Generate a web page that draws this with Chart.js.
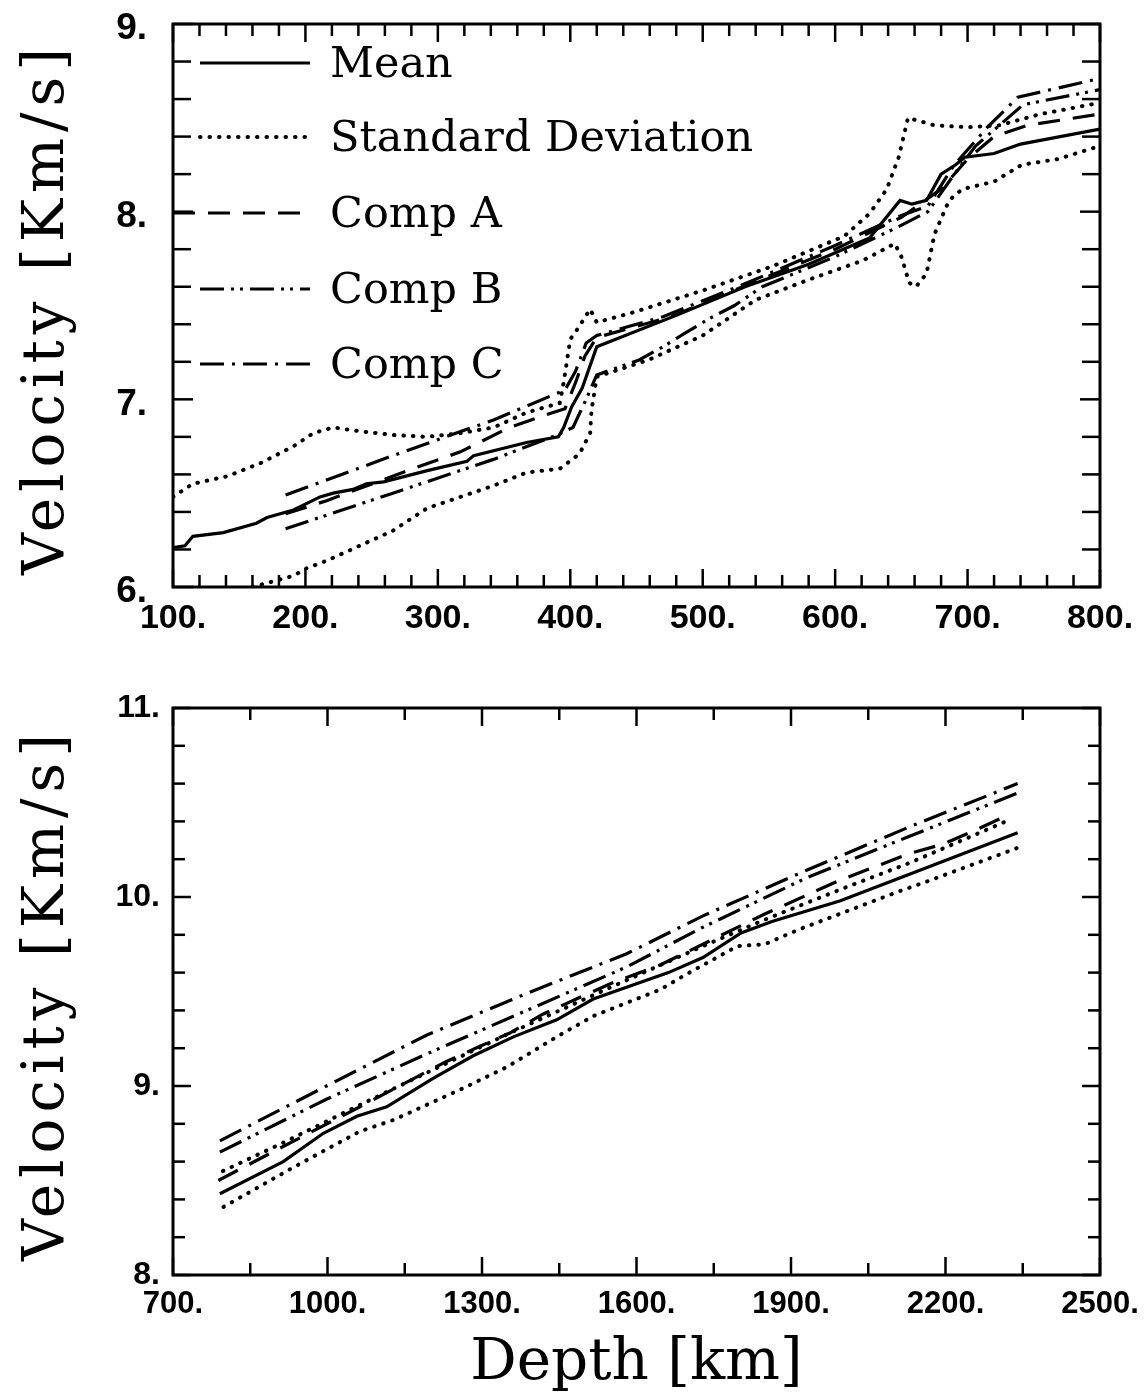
<!DOCTYPE html>
<html lang="en">
<head>
    <meta charset="UTF-8">
    <title>Velocity vs Depth</title>
    <style>
        body {
            margin: 0;
            background: #fff;
        }

        canvas {
            position: absolute;
            left: 0;
        }

        #topChart { top: 0; }
        #bottomChart { top: 650px; }
    </style>
</head>

<body>
    <canvas id="topChart" width="1145" height="650"></canvas>
    <canvas id="bottomChart" width="1145" height="743"></canvas>

    <script src="https://cdn.jsdelivr.net/npm/chart.js"></script>

    <script>
        // depth [km], velocity [km/s] pairs

        // upper panel, 100 - 800 km
        const topMean = [[100, 6.21], [109, 6.22], [115, 6.27], [138, 6.29], [163, 6.34], [171, 6.37], [191, 6.41],
            [211, 6.48], [221, 6.50], [236, 6.52], [246, 6.55], [259, 6.56], [292, 6.62], [322, 6.67], [327, 6.70],
            [367, 6.77], [391, 6.80], [395, 6.85], [401, 6.96], [409, 7.06], [420, 7.28], [481, 7.45], [532, 7.60],
            [580, 7.72], [626, 7.86], [649, 8.06], [658, 8.04], [669, 8.06], [680, 8.20], [691, 8.25], [698, 8.29],
            [720, 8.31], [740, 8.36], [800, 8.44]];
        const topSdUpper = [[100, 6.48], [115, 6.55], [141, 6.59], [166, 6.66], [191, 6.75], [206, 6.82], [221, 6.85],
            [241, 6.83], [266, 6.81], [292, 6.80], [317, 6.82], [342, 6.85], [367, 6.93], [392, 6.98], [395, 7.09],
            [400, 7.32], [405, 7.37], [415, 7.48], [420, 7.41], [446, 7.46], [500, 7.58], [553, 7.71], [607, 7.87],
            [626, 7.99], [639, 8.12], [648, 8.29], [655, 8.50], [675, 8.46], [700, 8.45], [724, 8.46], [755, 8.52],
            [800, 8.58]];
        const topSdLower = [[160, 6.00], [191, 6.06], [201, 6.10], [216, 6.14], [241, 6.22], [266, 6.30], [292, 6.42],
            [317, 6.48], [342, 6.54], [367, 6.61], [392, 6.63], [407, 6.71], [415, 6.82], [416, 6.94], [420, 7.12],
            [459, 7.21], [500, 7.34], [540, 7.53], [581, 7.64], [621, 7.74], [645, 7.83], [650, 7.76], [656, 7.62],
            [661, 7.60], [669, 7.67], [675, 7.88], [686, 8.06], [696, 8.12], [720, 8.16], [741, 8.25], [768, 8.28],
            [800, 8.35]];
        const topCompA = [[185, 6.39], [216, 6.46], [281, 6.63], [317, 6.72], [354, 6.85], [387, 6.93], [396, 6.95],
            [404, 7.09], [411, 7.23], [420, 7.33], [476, 7.44], [530, 7.60], [600, 7.80], [650, 7.97], [680, 8.12],
            [700, 8.28], [720, 8.40], [745, 8.46], [800, 8.52]];
        const topCompB = [[185, 6.31], [266, 6.50], [342, 6.68], [390, 6.81], [402, 6.85], [412, 7.00], [420, 7.13],
            [452, 7.21], [470, 7.28], [486, 7.35], [505, 7.43], [524, 7.50], [545, 7.60], [600, 7.76], [645, 7.91],
            [670, 8.00], [690, 8.20], [706, 8.35], [742, 8.57], [800, 8.65]];
        const topCompC = [[185, 6.49], [266, 6.70], [342, 6.89], [396, 7.05], [404, 7.15], [412, 7.30], [420, 7.34],
            [470, 7.44], [530, 7.61], [600, 7.82], [650, 7.98], [670, 8.03], [690, 8.25], [715, 8.45], [738, 8.61],
            [800, 8.71]];

        // lower panel, 700 - 2500 km
        const botMean = [[791, 8.43], [914, 8.60], [992, 8.75], [1057, 8.84], [1115, 8.89], [1205, 9.04], [1283, 9.16],
            [1361, 9.26], [1445, 9.35], [1516, 9.46], [1662, 9.60], [1729, 9.68], [1803, 9.81], [1863, 9.87],
            [1996, 9.98], [2130, 10.12], [2340, 10.34]];
        const botSdUpper = [[797, 8.55], [914, 8.70], [1063, 8.90], [1231, 9.12], [1354, 9.28], [1548, 9.52],
            [1729, 9.74], [1849, 9.88], [1996, 10.04], [2130, 10.18], [2326, 10.41]];
        const botSdLower = [[798, 8.36], [934, 8.57], [1063, 8.76], [1128, 8.82], [1257, 8.98], [1348, 9.10],
            [1445, 9.26], [1516, 9.37], [1646, 9.51], [1696, 9.59], [1796, 9.74], [1849, 9.75], [1917, 9.83],
            [2110, 10.03], [2162, 10.08], [2340, 10.26]];
        const botCompA = [[788, 8.50], [914, 8.68], [1063, 8.89], [1231, 9.13], [1296, 9.21], [1354, 9.28], [1418, 9.38],
            [1548, 9.54], [1646, 9.64], [1849, 9.91], [1996, 10.09], [2130, 10.23], [2196, 10.28], [2263, 10.36],
            [2326, 10.44]];
        const botCompB = [[791, 8.65], [998, 8.93], [1193, 9.17], [1387, 9.40], [1581, 9.63], [1729, 9.84], [1929, 10.10],
            [2129, 10.32], [2340, 10.55]];
        const botCompC = [[791, 8.71], [998, 9.00], [1193, 9.27], [1387, 9.49], [1581, 9.70], [1729, 9.90], [1929, 10.14],
            [2129, 10.37], [2340, 10.60]];

        const legendLabels = ['Mean', 'Standard Deviation', 'Comp A', 'Comp B', 'Comp C'];
        const yTitle = 'Velocity [Km/s]';
        const xTitle = 'Depth [km]';

        // line looks
        const styles = {
            mean: { dash: [], width: 3.2, cap: 'butt' },
            sd: { dash: [0.5, 9], width: 4, cap: 'round' },
            a: { dash: [22, 13], width: 3.2, cap: 'butt' },
            b: { dash: [24, 7, 3, 6, 3, 7], width: 3.2, cap: 'butt' },
            c: { dash: [24, 8, 3, 8], width: 3.2, cap: 'butt' }
        };
        const legendStyles = [styles.mean, styles.sd, styles.a, styles.b, styles.c];

        const serif = 'DejaVu Serif';

        function toXY(pts) {
            return pts.map(p => ({ x: p[0], y: p[1] }));
        }

        function makeSet(pts, st) {
            return {
                data: toXY(pts),
                borderColor: '#000',
                borderWidth: st.width,
                borderDash: st.dash,
                borderCapStyle: st.cap,
                pointRadius: 0,
                tension: 0,
                fill: false
            };
        }

        // tick marks pointing inward on all four sides, plus the frame
        const innerTicks = {
            id: 'innerTicks',
            afterDatasetsDraw(chart, args, opts) {
                const { ctx, chartArea: a, scales: { x, y } } = chart;
                ctx.save();
                ctx.strokeStyle = '#000';
                ctx.lineWidth = 2.5;
                ctx.setLineDash([]);
                const seg = (x1, y1, x2, y2) => {
                    ctx.beginPath();
                    ctx.moveTo(x1, y1);
                    ctx.lineTo(x2, y2);
                    ctx.stroke();
                };
                const isMajor = (v, min, step) => Math.abs((v - min) / step - Math.round((v - min) / step)) < 1e-6;

                const nx = Math.round((x.max - x.min) / opts.xMinor);
                for (let i = 0; i <= nx; i++) {
                    const v = x.min + i * opts.xMinor;
                    const px = x.getPixelForValue(v);
                    const len = isMajor(v, x.min, opts.xMajor) ? opts.xMajorLen : opts.xMinorLen;
                    seg(px, a.bottom, px, a.bottom - len);
                    seg(px, a.top, px, a.top + len);
                }
                const ny = Math.round((y.max - y.min) / opts.yMinor);
                for (let i = 0; i <= ny; i++) {
                    const v = y.min + i * opts.yMinor;
                    const py = y.getPixelForValue(v);
                    const len = isMajor(v, y.min, opts.yMajor) ? opts.yMajorLen : opts.yMinorLen;
                    seg(a.left, py, a.left + len, py);
                    seg(a.right, py, a.right - len, py);
                }
                ctx.lineWidth = 3;
                ctx.strokeRect(a.left, a.top, a.right - a.left, a.bottom - a.top);
                ctx.restore();
            }
        };

        // rotated y title, a little letter-spaced like the original plot
        const spacedTitle = {
            id: 'spacedTitle',
            afterDraw(chart) {
                const { ctx, chartArea: a } = chart;
                ctx.save();
                ctx.fillStyle = '#000';
                ctx.font = '58px "' + serif + '"';
                ctx.letterSpacing = '6px';
                ctx.textAlign = 'center';
                ctx.textBaseline = 'alphabetic';
                ctx.translate(63, (a.top + a.bottom) / 2 + 3);
                ctx.rotate(-Math.PI / 2);
                ctx.fillText(yTitle, 0, 0);
                ctx.restore();
            }
        };

        // legend drawn inside the upper panel
        const lineLegend = {
            id: 'lineLegend',
            afterDraw(chart, args, opts) {
                if (!opts.show) return;
                const ctx = chart.ctx;
                ctx.save();
                ctx.fillStyle = '#000';
                ctx.strokeStyle = '#000';
                ctx.font = '43px "' + serif + '"';
                ctx.textBaseline = 'middle';
                legendLabels.forEach((label, i) => {
                    const st = legendStyles[i];
                    const yy = opts.rows[i];
                    ctx.lineWidth = st.width;
                    ctx.lineCap = st.cap;
                    ctx.setLineDash(st.dash);
                    ctx.beginPath();
                    ctx.moveTo(opts.lineStart[i], yy);
                    ctx.lineTo(opts.lineEnd, yy);
                    ctx.stroke();
                    ctx.setLineDash([]);
                    ctx.fillText(label, opts.textX, yy + 3);
                });
                ctx.restore();
            }
        };

        function buildChart(id, sets, s) {
            const ctx = document.getElementById(id).getContext('2d');
            const xFont = { family: 'Liberation Sans', weight: 'bold', size: s.xTickSize };
            const yFont = { family: 'Liberation Sans', weight: 'bold', size: s.yTickSize };
            return new Chart(ctx, {
                type: 'line',
                data: {
                    datasets: [
                        makeSet(sets.mean, styles.mean),
                        makeSet(sets.sdUp, styles.sd),
                        makeSet(sets.sdLo, styles.sd),
                        makeSet(sets.a, styles.a),
                        makeSet(sets.b, styles.b),
                        makeSet(sets.c, styles.c)
                    ]
                },
                options: {
                    responsive: false,
                    animation: false,
                    layout: { padding: { top: s.padTop, right: 45, left: 0, bottom: 0 } },
                    plugins: {
                        legend: { display: false },
                        tooltip: { enabled: false },
                        innerTicks: s.ticks,
                        lineLegend: s.legend
                    },
                    scales: {
                        x: {
                            type: 'linear',
                            min: s.xMin,
                            max: s.xMax,
                            grid: { display: false, drawTicks: false },
                            border: { display: false },
                            ticks: {
                                stepSize: s.xStep,
                                callback: v => v + '.',
                                font: xFont,
                                color: '#000',
                                padding: 11,
                                maxRotation: 0,
                                autoSkip: false
                            },
                            title: {
                                display: s.showX,
                                text: xTitle,
                                color: '#000',
                                font: { family: serif, size: 58, lineHeight: 1 },
                                padding: { top: 0, bottom: 0 }
                            },
                            afterFit: sc => {
                                sc.height = s.xHeight;
                                sc.paddingLeft = 0;
                                sc.paddingRight = 0;
                            }
                        },
                        y: {
                            min: s.yMin,
                            max: s.yMax,
                            grid: { display: false, drawTicks: false },
                            border: { display: false },
                            ticks: {
                                stepSize: 1,
                                callback: v => v + '.',
                                font: yFont,
                                color: '#000',
                                padding: s.yPad,
                                labelOffset: s.yLabelOffset
                            },
                            afterFit: sc => {
                                sc.width = 173;
                                sc.paddingTop = 0;
                                sc.paddingBottom = 0;
                            }
                        }
                    }
                },
                plugins: [innerTicks, lineLegend, spacedTitle]
            });
        }

        buildChart('topChart',
            { mean: topMean, sdUp: topSdUpper, sdLo: topSdLower, a: topCompA, b: topCompB, c: topCompC },
            {
                padTop: 24, xMin: 100, xMax: 800, xStep: 100, yMin: 6, yMax: 9, yPad: 26, yLabelOffset: 5,
                xTickSize: 34, yTickSize: 37, showX: false, xHeight: 63,
                ticks: { xMinor: 20, xMajor: 100, xMajorLen: 18, xMinorLen: 12, yMinor: 0.2, yMajor: 1, yMajorLen: 20, yMinorLen: 18 },
                legend: { show: true, rows: [63, 137, 213, 289, 364], lineStart: [200, 200, 173, 200, 200], lineEnd: 310, textX: 330 }
            });

        buildChart('bottomChart',
            { mean: botMean, sdUp: botSdUpper, sdLo: botSdLower, a: botCompA, b: botCompB, c: botCompC },
            {
                padTop: 58, xMin: 700, xMax: 2500, xStep: 300, yMin: 8, yMax: 11, yPad: 13, yLabelOffset: 0,
                xTickSize: 31, yTickSize: 32, showX: true, xHeight: 118,
                ticks: { xMinor: 150, xMajor: 300, xMajorLen: 18, xMinorLen: 12, yMinor: 0.2, yMajor: 1, yMajorLen: 18, yMinorLen: 12 },
                legend: { show: false }
            });
    </script>
</body>
</html>
